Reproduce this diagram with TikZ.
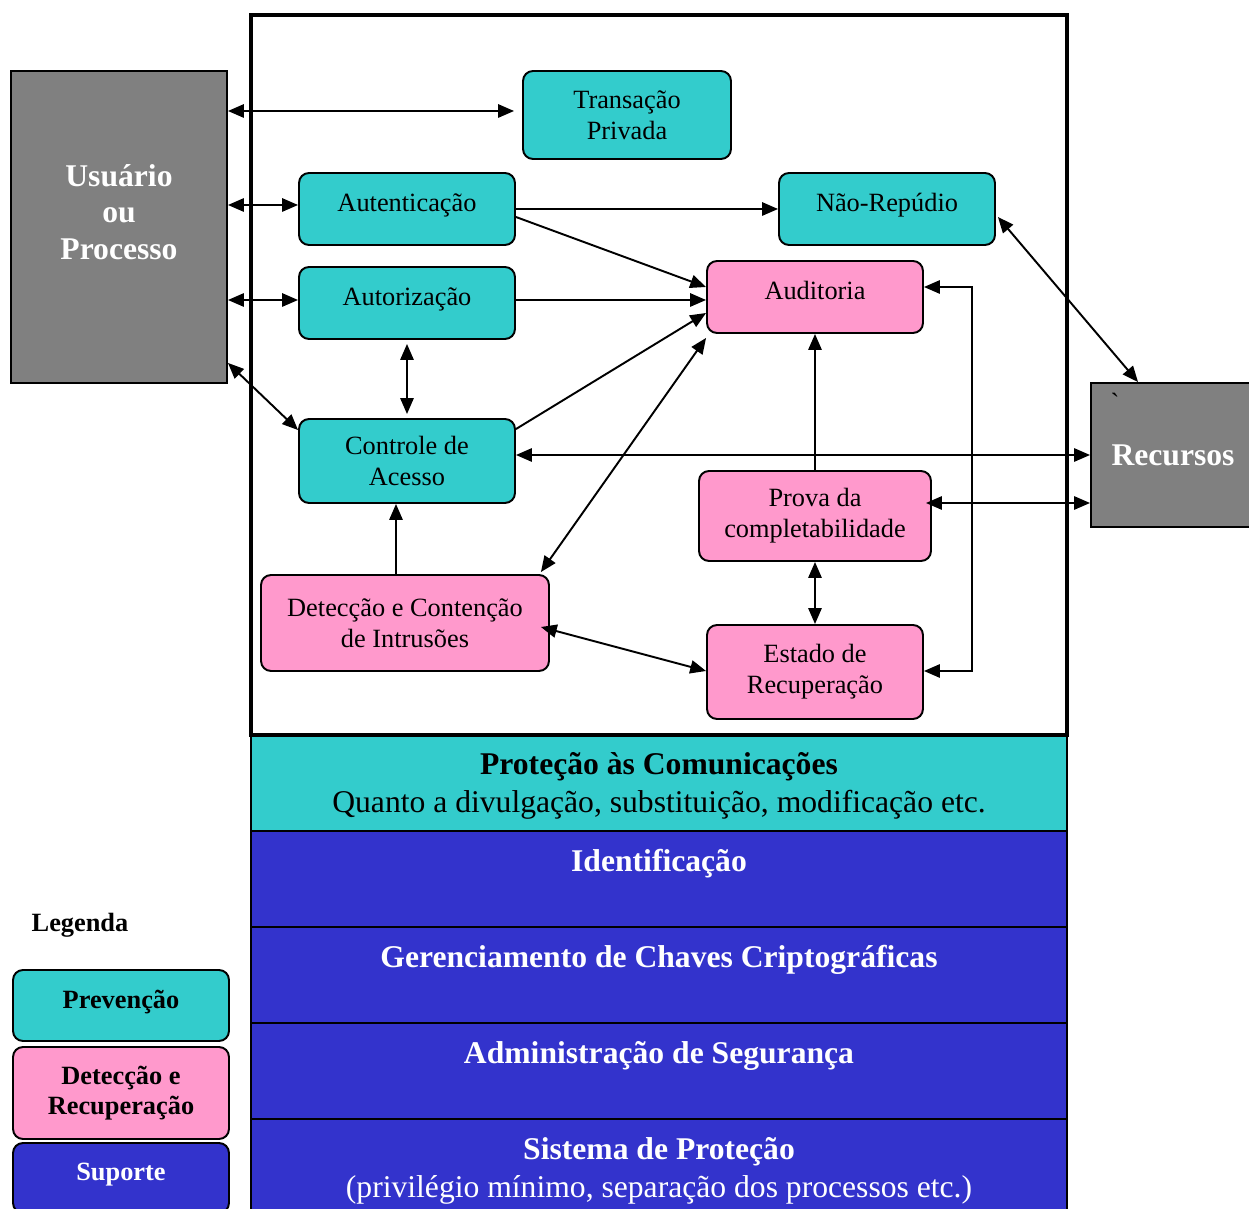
\documentclass[tikz,border=0pt]{standalone}
\usepackage{fontspec}
\setmainfont{Liberation Serif}
\usetikzlibrary{arrows.meta,calc}
\definecolor{cyanc}{HTML}{33CCCC}
\definecolor{pinkc}{HTML}{FF99CC}
\definecolor{grayc}{HTML}{808080}
\definecolor{bluec}{HTML}{3333CC}
\tikzset{
  base/.style={draw, line width=1.1pt, rounded corners=0.2cm, align=center, inner sep=0pt, font=\fontsize{15}{17.5}\selectfont},
  prevbox/.style={base, fill=cyanc},
  detbox/.style={base, fill=pinkc},
  oneline/.style={text depth=0.25cm},
  graybox/.style={draw, line width=1.1pt, fill=grayc, align=center, inner sep=0pt, text=white, font=\bfseries\fontsize{18}{21}\selectfont},
  legbox/.style={base, font=\bfseries\fontsize{15}{17.5}\selectfont},
  bandtitle/.style={font=\bfseries\fontsize{18}{21}\selectfont, inner sep=0pt},
  bandsub/.style={font=\fontsize{18}{21}\selectfont, inner sep=0pt},
  band/.style={draw, line width=1.1pt},
  arr/.style={line width=1.1pt, -{Triangle[length=9pt,width=7.5pt]}},
  darr/.style={line width=1.1pt, {Triangle[length=9pt,width=7.5pt]}-{Triangle[length=9pt,width=7.5pt]}},
}
\begin{document}
\begin{tikzpicture}[x=0.02cm,y=-0.02cm]
\useasboundingbox (0,0) rectangle (1249,1209);
% main frame
\draw[line width=2.2pt] (251,15) rectangle (1067,735);
% bands
\filldraw[band, fill=cyanc] (251,735) rectangle (1067,831);
\filldraw[band, fill=bluec] (251,831) rectangle (1067,927);
\filldraw[band, fill=bluec] (251,927) rectangle (1067,1023);
\filldraw[band, fill=bluec] (251,1023) rectangle (1067,1119);
\filldraw[band, fill=bluec] (251,1119) rectangle (1067,1215);
\draw[line width=2.2pt] (251,735) -- (1067,735);
\node[bandtitle] (commt) at (659,767) {Proteção às Comunicações};
\node[bandsub] (comms) at (659,805) {Quanto a divulgação, substituição, modificação etc.};
\node[bandtitle, text=white] (ident) at (659,864) {Identificação};
\node[bandtitle, text=white] (ger) at (659,960) {Gerenciamento de Chaves Criptográficas};
\node[bandtitle, text=white] (adm) at (659,1056) {Administração de Segurança};
\node[bandtitle, text=white] (sist) at (659,1152) {Sistema de Proteção};
\node[bandsub, text=white] (sists) at (659,1190) {(privilégio mínimo, separação dos processos etc.)};

% gray boxes
\node[graybox, minimum width=4.32cm, minimum height=6.24cm, text depth=0.6cm] (usr) at (119,227) {Usuário\\ou\\Processo};
\node[graybox, minimum width=3.28cm, minimum height=2.88cm] (rec) at (1173,455) {Recursos};
\node[inner sep=0pt, font=\fontsize{15}{17.5}\selectfont] (tick) at (1115,402) {\textasciigrave};

% nodes
\node[prevbox, minimum width=4.16cm, minimum height=1.76cm] (trans) at (627,115) {Transação\\Privada};
\node[prevbox, oneline, minimum width=4.32cm, minimum height=1.44cm] (autent) at (407,209) {Autenticação};
\node[prevbox, oneline, minimum width=4.32cm, minimum height=1.44cm] (autz) at (407,303) {Autorização};
\node[prevbox, minimum width=4.32cm, minimum height=1.68cm] (ctl) at (407,461) {Controle de\\Acesso};
\node[prevbox, oneline, minimum width=4.32cm, minimum height=1.44cm] (nr) at (887,209) {Não-Repúdio};
\node[detbox, oneline, minimum width=4.32cm, minimum height=1.44cm] (aud) at (815,297) {Auditoria};
\node[detbox, minimum width=4.64cm, minimum height=1.8cm] (prova) at (815,516) {Prova da\\completabilidade};
\node[detbox, minimum width=5.76cm, minimum height=1.92cm] (det) at (405,623) {Detecção e Contenção\\de Intrusões};
\node[detbox, minimum width=4.32cm, minimum height=1.88cm] (est) at (815,672) {Estado de\\Recuperação};

% legend
\node[font=\bfseries\fontsize{15}{17.5}\selectfont, inner sep=0pt] (leg) at (80,925) {Legenda};
\node[legbox, oneline, fill=cyanc, minimum width=4.32cm, minimum height=1.42cm] (lprev) at (121,1005.5) {Prevenção};
\node[legbox, fill=pinkc, minimum width=4.32cm, minimum height=1.84cm] (ldet) at (121,1093) {Detecção e\\Recuperação};
\node[legbox, oneline, fill=bluec, text=white, minimum width=4.32cm, minimum height=1.4cm] (lsup) at (121,1178) {Suporte};

% connectors
\draw[darr, shorten >=0.16cm] ($(usr.east)+(0,-116)$) -- ($(trans.west)+(0,-4)$);
\draw[darr] ($(usr.east)+(0,-22)$) -- ($(autent.west)+(0,-4)$);
\draw[darr] ($(usr.east)+(0,73)$) -- ($(autz.west)+(0,-3)$);
\draw[darr] ($(usr.south east)+(0,-21)$) -- ($(ctl.north west)+(0,12)$);
\draw[arr] (autent.east) -- (nr.west);
\draw[arr] ($(autent.east)+(0,8)$) -- ($(aud.west)+(0,-10)$);
\draw[arr] ($(autz.east)+(0,-3)$) -- ($(aud.west)+(0,3)$);
\draw[arr] ($(ctl.north east)+(0,11)$) -- ($(aud.west)+(0,16)$);
\draw[darr] ($(det.north east)+(-9,-2)$) -- ($(aud.south west)+(0,4)$);
\draw[darr, shorten <=0.08cm, shorten >=0.08cm] (autz.south) -- (ctl.north);
\draw[darr] ($(ctl.east)+(0,-6)$) -- (rec.west);
\draw[darr] ($(prova.east)+(-6,-13)$) -- ($(rec.west)+(0,48)$);
\draw[darr] ($(nr.east)+(2,8)$) -- ($(rec.north west)+(48,0)$);
\draw[arr] (prova.north) -- (aud.south);
\draw[arr] ($(det.north)+(-9,0)$) -- ($(ctl.south)+(-11,0)$);
\draw[darr] ($(det.east)+(-9,4)$) -- ($(est.west)+(0,-1)$);
\draw[darr] (prova.south) -- (est.north);
\draw[darr] ($(aud.east)+(0,-10)$) -- ($(aud.east)+(48,-10)$) -- ($(est.east)+(48,-1)$) -- ($(est.east)+(0,-1)$);
\end{tikzpicture}
\end{document}
